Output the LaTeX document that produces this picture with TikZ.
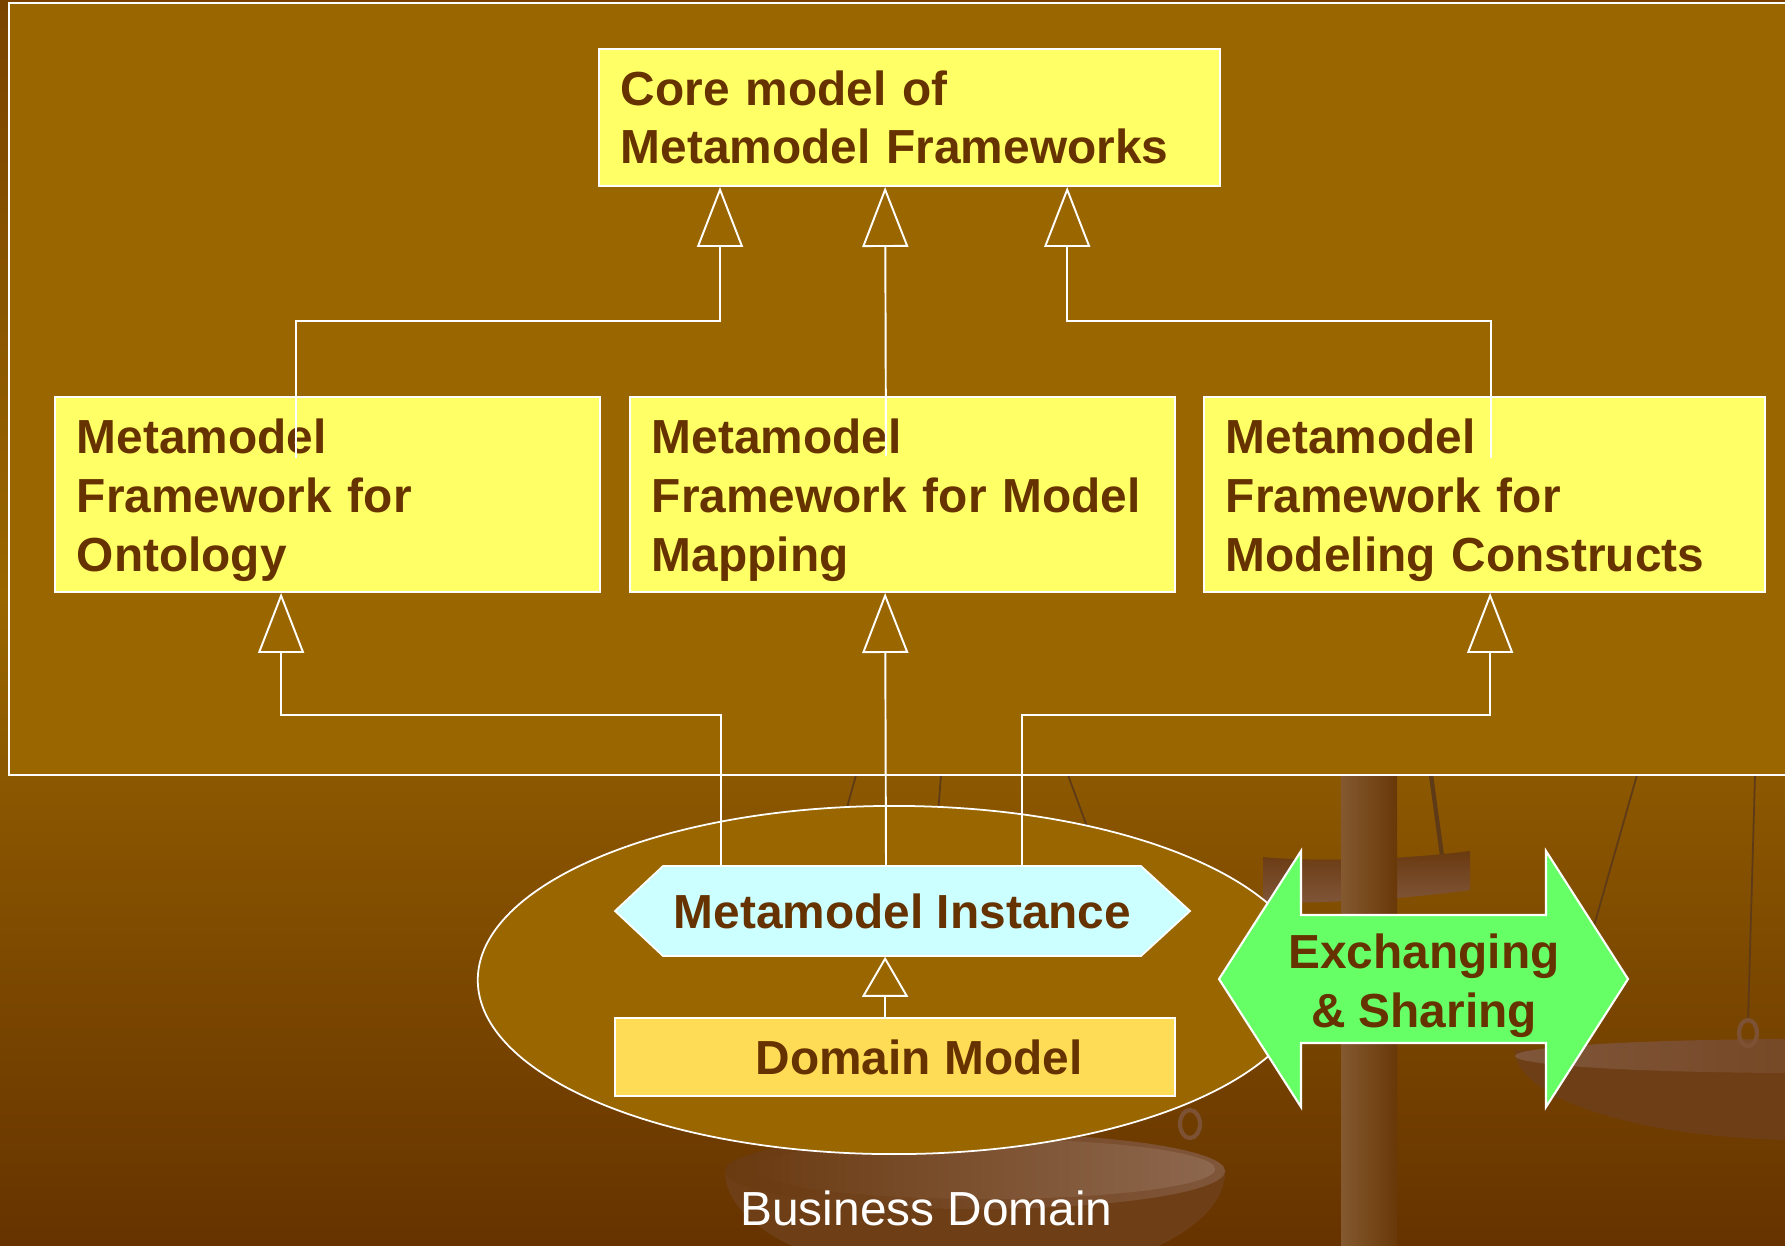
\documentclass[tikz,border=0pt]{standalone}
\usepackage{fontspec}
\setmainfont{Liberation Sans}
\usetikzlibrary{arrows.meta,shapes.geometric}

\definecolor{bgtop}{HTML}{7A4300}
\definecolor{bgmid}{HTML}{8C5800}
\definecolor{slidebrown}{HTML}{996600}
\definecolor{inkbrown}{HTML}{663300}
\definecolor{boxyellow}{HTML}{FFFF66}
\definecolor{domainyellow}{HTML}{FFDC55}
\definecolor{instcyan}{HTML}{CCFFFF}
\definecolor{xchggreen}{HTML}{66FF66}
\definecolor{polelight}{HTML}{84592F}
\definecolor{poledark}{HTML}{683808}
\definecolor{panlight}{HTML}{80563A}
\definecolor{pandark}{HTML}{6A3A10}
\definecolor{panbody}{HTML}{6E3F16}
\definecolor{cordbrown}{HTML}{5E3A16}

% slide background: the path covers 25bp (foot) to 75bp (top)
\pgfdeclareverticalshading{slidebg}{100bp}{color(0bp)=(inkbrown);
    color(25bp)=(inkbrown); color(43.9bp)=(bgmid); color(51bp)=(slidebrown);
    color(75bp)=(bgtop); color(100bp)=(bgtop)}

\newcommand{\fwfont}{\fontsize{13.6}{16.7}\selectfont\bfseries}

\begin{document}
\begin{tikzpicture}[
    x=0.01cm, y=-0.01cm,
    fwbox/.style={draw=white,line width=0.5pt,fill=boxyellow,text=inkbrown,
        font=\fwfont,align=left,inner xsep=0.22cm,inner ysep=0pt},
    midbox/.style={fwbox,minimum height=1.95cm,
        execute at begin node={\rule{0pt}{13.1pt}}},
    gen/.style={draw=white,line width=0.55pt,
        -{Triangle[open,length=6mm,width=4.6mm]}},
    genshort/.style={gen,-{Triangle[open,length=4mm,width=4.6mm]}},
    cord/.style={draw=cordbrown,line width=0.5pt}
]
    \useasboundingbox (0,0) rectangle (1785,1245);
    \clip (0,0) rectangle (1785,1245);

    \shade[shading=slidebg] (0,0) rectangle (1785,1245);

    % balance scale behind the diagram
    \draw[cord] (856,775) -- (838,840);
    \draw[cord] (941,775) -- (936,840);
    \draw[cord] (1068,775) -- (1092,840);
    \draw[cord] (1637,775) -- (1560,1045);
    \draw[cord] (1755,775) -- (1748,1022);
    \draw[cordbrown,line width=1.2pt] (1431,775) -- (1446,885);
    \shade[top color=pandark,bottom color=panlight]
        (1263,857) .. controls (1310,862) and (1400,860) .. (1470,851)
        -- (1470,890) .. controls (1400,900) and (1310,904) .. (1263,902) -- cycle;
    \shade[left color=polelight,right color=poledark] (1341,775) rectangle (1397,1245);
    % left pan
    \fill[panbody] (725,1171) arc[start angle=180,end angle=360,
        x radius=2.5cm,y radius=1.1cm];
    \shade[left color=pandark,right color=panlight] (975,1171)
        ellipse [x radius=2.5cm,y radius=0.38cm];
    \shade[left color=pandark!90!panlight,right color=panlight!90!white] (985,1169)
        ellipse [x radius=2.3cm,y radius=0.3cm];
    \draw[panlight!85!pandark,line width=1.2pt] (1190,1124)
        ellipse [x radius=0.1cm,y radius=0.14cm];
    % right pan
    \fill[panbody] (1515,1050) arc[start angle=180,end angle=360,
        x radius=2.9cm,y radius=0.9cm];
    \shade[left color=panlight,right color=pandark] (1805,1056)
        ellipse [x radius=2.9cm,y radius=0.17cm];
    \draw[panlight!85!pandark,line width=1.2pt] (1748,1033)
        ellipse [x radius=0.09cm,y radius=0.13cm];

    % framework area
    \draw[white,line width=0.5pt,fill=slidebrown] (9,3) rectangle (1800,775);

    % business domain
    \node[ellipse,draw=white,line width=0.5pt,fill=slidebrown,inner sep=0pt,
        minimum width=8.32cm,minimum height=3.48cm] (bizarea) at (894,980) {};
    \node[font=\fontsize{13.6}{16}\selectfont,text=white,anchor=base]
        (bizlabel) at (926.5,1225) {Business Domain};

    \node[fwbox,minimum width=6.21cm,minimum height=1.37cm,text width=5.77cm]
        (core) at (909.5,117.5) {Core model of\\Metamodel Frameworks};
    \node[midbox,minimum width=5.45cm,text width=5.01cm]
        (onto) at (327.5,494.5) {Metamodel\\Framework for\\Ontology};
    \node[midbox,minimum width=5.45cm,text width=5.01cm]
        (mapping) at (902.5,494.5) {Metamodel\\Framework for Model\\Mapping};
    \node[midbox,minimum width=5.61cm,text width=5.17cm]
        (constructs) at (1484.5,494.5) {Metamodel\\Framework for\\Modeling Constructs};

    \filldraw[draw=white,line width=0.5pt,fill=instcyan]
        (615,911) -- (663,866) -- (1141,866) -- (1190,911)
        -- (1141,956) -- (663,956) -- cycle;
    \node[font=\fwfont,text=inkbrown,inner sep=0pt,
        minimum width=5.75cm,minimum height=0.9cm] (inst) at (902.5,911)
        {Metamodel Instance};
    \node[fwbox,fill=domainyellow,align=center,inner xsep=0pt,
        minimum width=5.6cm,minimum height=0.78cm] (domain) at (895,1057)
        {\hspace*{0.48cm}Domain Model};

    % generalisations up to the core model
    \coordinate (up1) at ([xshift=1.22cm]core.south west);
    \coordinate (up2) at ([xshift=2.87cm]core.south west);
    \coordinate (up3) at ([xshift=4.69cm]core.south west);
    \draw[gen] ([shift={(-0.315cm,-0.62cm)}]onto.north) |- (up1 |- 0,321) -- (up1);
    \draw[gen] ([shift={(-0.165cm,-0.6cm)}]mapping.north) -- (up2);
    \draw[gen] ([shift={(0.065cm,-0.62cm)}]constructs.north) |- (up3 |- 0,321) -- (up3);

    % generalisations from the instance
    \coordinate (lo1) at ([xshift=2.27cm]onto.south west);
    \coordinate (lo2) at ([xshift=2.56cm]mapping.south west);
    \coordinate (lo3) at ([xshift=2.87cm]constructs.south west);
    \draw[gen] ([xshift=-1.815cm]inst.north) |- (lo1 |- 0,715) -- (lo1);
    \draw[gen] ([xshift=-0.165cm]inst.north) -- (lo2);
    \draw[gen] ([xshift=1.195cm]inst.north) |- (lo3 |- 0,715) -- (lo3);
    \draw[genshort] (domain.north -| lo2) -- (inst.south -| lo2);

    % exchange arrow
    \filldraw[draw=white,line width=0.6pt,fill=xchggreen]
        (1219,979) -- (1301,851) -- (1301,915) -- (1546,915) -- (1546,851)
        -- (1628,979) -- (1546,1107) -- (1546,1043) -- (1301,1043)
        -- (1301,1107) -- cycle;
    \node[font=\fwfont,text=inkbrown,align=center] (xchg) at (1424,985.5)
        {Exchanging\\\& Sharing};
\end{tikzpicture}
\end{document}
